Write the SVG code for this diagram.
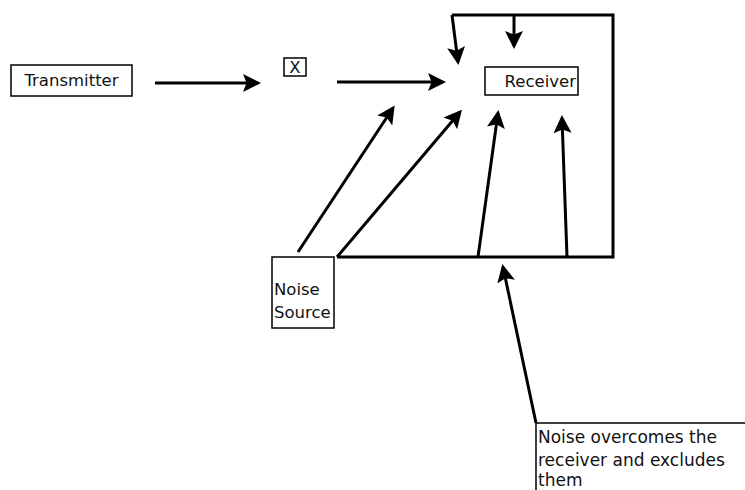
<svg xmlns="http://www.w3.org/2000/svg" width="745" height="490" viewBox="0 0 745 490">
<style>
.box{fill:#fff;stroke:#000;stroke-width:1.5}
.t{font-family:"DejaVu Sans",sans-serif;font-size:16.5px;fill:#111}
.n{font-size:17px}
.ln{fill:none;stroke:#000;stroke-width:3}
.ar{fill:none;stroke:#000;stroke-width:3;marker-end:url(#ah)}
</style>
<defs>
<marker id="ah" markerWidth="6" markerHeight="6" refX="5" refY="3" orient="auto" markerUnits="strokeWidth" viewBox="0 0 6 6">
<path d="M0,0 L6,3 L0,6 L1.2,3 Z" fill="#000"/>
</marker>
</defs>
<rect width="745" height="490" fill="#fff"/>
<g id="connectors">
<line class="ar" x1="155" y1="83" x2="258" y2="83"/>
<line class="ar" x1="337" y1="82" x2="443" y2="82"/>
<polyline class="ln" points="337,257 613,257 613,15 452,15"/>
<line class="ar" x1="452" y1="15" x2="458" y2="62"/>
<line class="ar" x1="514" y1="15" x2="514" y2="46"/>
<line class="ar" x1="298" y1="252" x2="393" y2="108"/>
<line class="ar" x1="337" y1="257" x2="460" y2="112"/>
<line class="ar" x1="478" y1="257" x2="498" y2="113"/>
<line class="ar" x1="567" y1="257" x2="562" y2="118"/>
<line class="ar" x1="536" y1="423" x2="503" y2="267"/>
</g>
<g id="transmitter">
<rect class="box" x="11" y="65" width="121" height="31"/>
<text class="t" x="71.5" y="86" text-anchor="middle">Transmitter</text>
</g>
<g id="x">
<rect class="box" x="284" y="58" width="22" height="18"/>
<text class="t" x="295" y="73" text-anchor="middle">X</text>
</g>
<g id="receiver">
<rect class="box" x="485" y="67" width="93" height="28"/>
<text class="t" x="576" y="87" text-anchor="end">Receiver</text>
</g>
<g id="noise-source">
<rect class="box" x="272" y="257" width="62" height="71"/>
<text class="t" x="274" y="295">Noise</text>
<text class="t" x="274" y="318">Source</text>
</g>
<g id="note">
<polyline fill="none" stroke="#000" stroke-width="1.5" points="745,423 536,423 536,490"/>
<text class="t n" x="538" y="443">Noise overcomes the</text>
<text class="t n" x="538" y="466">receiver and excludes</text>
<text class="t n" x="538" y="486">them</text>
</g>
</svg>
